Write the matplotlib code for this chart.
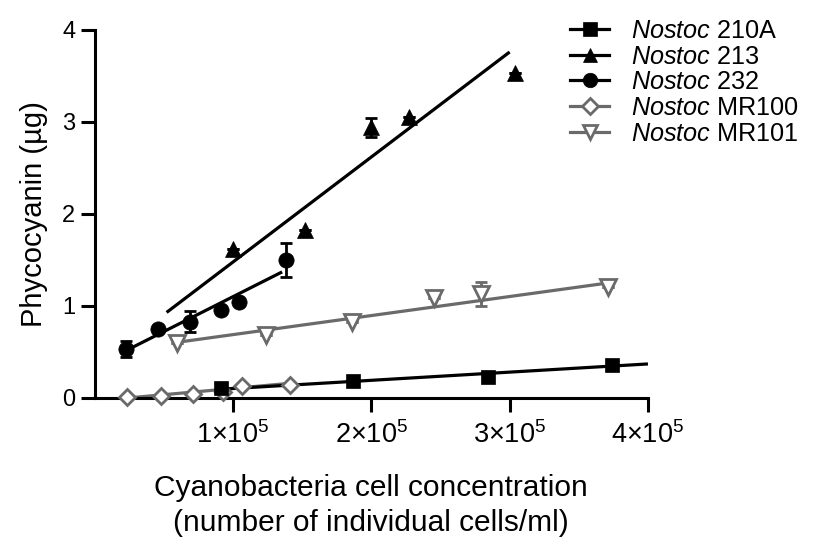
import matplotlib

matplotlib.use("Agg")
import matplotlib.pyplot as plt
from matplotlib.lines import Line2D

plt.rcParams["font.family"] = ["Liberation Sans", "DejaVu Sans"]
plt.rcParams["mathtext.fontset"] = "custom"
plt.rcParams["mathtext.rm"] = "Liberation Sans"
plt.rcParams["mathtext.it"] = "Liberation Sans:italic"

BLACK = "#000000"
GRAY = "#6a6a6a"

# --- data (x in cells/ml, y in ug) ---
names = ["Nostoc 210A", "Nostoc 213", "Nostoc 232", "Nostoc MR100", "Nostoc MR101"]

x210 = [0.91e5, 1.87e5, 2.84e5, 3.74e5]
y210 = [0.105, 0.18, 0.23, 0.36]
e210 = [0, 0, 0, 0]

x213 = [1.00e5, 1.52e5, 2.00e5, 2.27e5, 3.04e5]
y213 = [1.62, 1.83, 2.94, 3.05, 3.53]
e213 = [0, 0, 0.10, 0, 0]

x232 = [0.224e5, 0.46e5, 0.69e5, 0.91e5, 1.04e5, 1.38e5]
y232 = [0.53, 0.745, 0.83, 0.96, 1.04, 1.50]
e232 = [0.09, 0, 0.11, 0, 0, 0.18]

x100 = [0.236e5, 0.477e5, 0.713e5, 0.93e5, 1.066e5, 1.415e5]
y100 = [0.01, 0.025, 0.045, 0.07, 0.13, 0.14]
e100 = [0, 0, 0, 0, 0, 0]

x101 = [0.597e5, 1.235e5, 1.86e5, 2.45e5, 2.79e5, 3.71e5]
y101 = [0.60, 0.685, 0.83, 1.09, 1.13, 1.21]
e101 = [0, 0, 0, 0, 0.13, 0]

# fitted regression lines: [x_start, x_end], [y_start, y_end]
fit210 = ([0.91e5, 4.0e5], [0.095, 0.37])
fit213 = ([0.52e5, 3.0e5], [0.93, 3.76])
fit232 = ([0.22e5, 1.355e5], [0.51, 1.37])
fit100 = ([0.236e5, 1.415e5], [0.0, 0.16])
fit101 = ([0.62e5, 3.76e5], [0.61, 1.26])

series = [
    (x210, y210, e210, fit210, "s", BLACK, BLACK, 10.5, 5),
    (x213, y213, e213, fit213, "^", BLACK, BLACK, 11, 5),
    (x232, y232, e232, fit232, "o", BLACK, BLACK, 11, 5),
    (x100, y100, e100, fit100, "D", GRAY, "white", 8.5, 3),
    (x101, y101, e101, fit101, "v", GRAY, "white", 11, 3),
]

fig = plt.figure(figsize=(8.27, 5.51), dpi=100)
ax = fig.add_axes([0.1145, 0.2777, 0.669, 0.668])

handles = []
for x, y, e, fit, mk, col, face, ms, z in series:
    ax.plot(fit[0], fit[1], color=col, lw=2.3, zorder=z - 1, solid_capstyle="butt")
    if any(e):
        ax.errorbar(x, y, yerr=e, fmt="none", ecolor=col, elinewidth=2.0,
                    capsize=4, capthick=2.0, zorder=z)
    ax.plot(x, y, linestyle="none", marker=mk, markersize=ms, markerfacecolor=face,
            markeredgecolor=col, markeredgewidth=2.0 if face == "white" else 0.5,
            zorder=z + 1, clip_on=False)
    handles.append(Line2D([], [], color=col, lw=2.3, marker=mk, markersize=ms * 0.95,
                          markerfacecolor=face, markeredgecolor=col,
                          markeredgewidth=2.0 if face == "white" else 0.5))

ax.set_xlim(0, 4e5)
ax.set_ylim(0, 4)
ax.set_xticks([1e5, 2e5, 3e5, 4e5])
ax.set_xticklabels([r"$1{\times}10^{5}$", r"$2{\times}10^{5}$",
                    r"$3{\times}10^{5}$", r"$4{\times}10^{5}$"])
ax.set_yticks([0, 1, 2, 3, 4])
ax.set_yticklabels(["0", "1", "2", "3", "4"])

for s in ("top", "right"):
    ax.spines[s].set_visible(False)
for s in ("left", "bottom"):
    ax.spines[s].set_linewidth(2.2)
ax.tick_params(axis="both", width=2.2, length=10, labelsize=17, direction="out")
ax.tick_params(axis="x", pad=7, labelsize=19.5)
ax.tick_params(axis="y", pad=4)

ax.set_ylabel("Phycocyanin (\u00b5g)", fontsize=21, labelpad=10)
ax.set_xlabel("Cyanobacteria cell concentration\n(number of individual cells/ml)",
              fontsize=21.5, labelpad=18, linespacing=1.3)

labels = [r"$\it{Nostoc}$ " + n.split(" ", 1)[1] for n in names]
fig.legend(handles, labels, loc="upper left", bbox_to_anchor=(0.668, 0.998),
           frameon=False, fontsize=18.2, handlelength=1.55, handletextpad=0.85,
           labelspacing=0.07, borderpad=0.2)

fig.savefig("out.png", dpi=100)
